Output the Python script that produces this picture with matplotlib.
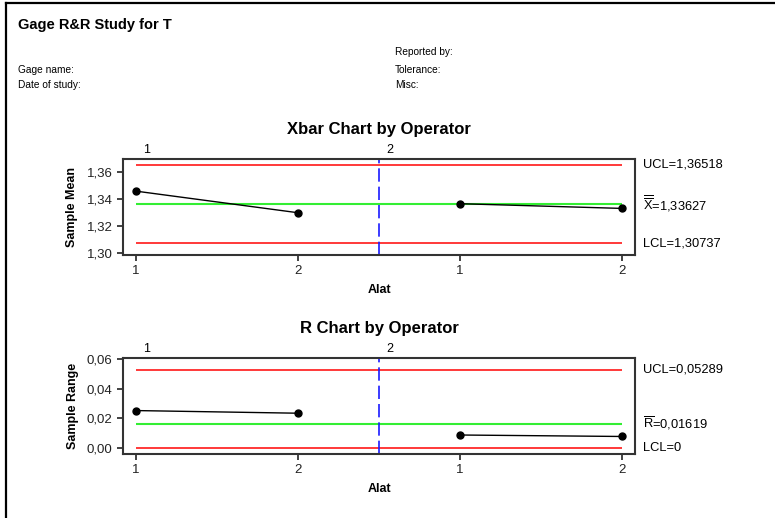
import matplotlib.pyplot as plt
from matplotlib.lines import Line2D
from matplotlib.ticker import FuncFormatter

plt.rcParams['font.family'] = ['Liberation Sans', 'DejaVu Sans']
plt.rcParams['mathtext.fontset'] = 'custom'
plt.rcParams['mathtext.rm'] = 'Liberation Sans'
plt.rcParams['mathtext.it'] = 'Liberation Sans'

# samples: operator 1 parts 1-2, operator 2 parts 1-2
operators = ['1', '2']
parts = ['1', '2', '1', '2']
xbar_vals = [1.3458, 1.3298, 1.3365, 1.3330]
r_vals = [0.0252, 0.0234, 0.0086, 0.0076]

xbar_ucl, xbar_cl, xbar_lcl = 1.36518, 1.33627, 1.30737
r_ucl, r_cl, r_lcl = 0.05289, 0.01619, 0.0

W, H = 775, 518
fig = plt.figure(figsize=(W / 100, H / 100), dpi=100)


def px_axes(l, t, r, b):
    return fig.add_axes([l / W, 1 - b / H, (r - l) / W, (b - t) / H])


# page frame
fig.add_artist(Line2D([6 / W, 6 / W], [0, 1 - 3 / H], color='black', lw=1.6))
fig.add_artist(Line2D([6 / W, 1], [1 - 3 / H, 1 - 3 / H], color='black', lw=1.6))

fig.text(18 / W, 1 - 25 / H, 'Gage R&R Study for T', fontsize=10.5,
         fontweight='bold', va='center')
for txt, y in [('Gage name:', 70), ('Date of study:', 85)]:
    fig.text(18 / W, 1 - y / H, txt, fontsize=7.3, va='center')
for txt, y in [('Reported by:', 52), ('Tolerance:', 70), ('Misc:', 85)]:
    fig.text(395 / W, 1 - y / H, txt, fontsize=7.3, va='center')

comma = FuncFormatter(lambda v, p: f'{v:.2f}'.replace('.', ','))
xs = list(range(1, len(parts) + 1))
n_per_op = len(parts) // len(operators)


def control_chart(ax, vals, ucl, cl, lcl, labels, ylim, yticks, title, ylabel):
    ax.hlines([ucl, lcl], 1, len(vals), colors='#ff2a2a', lw=1.3)
    ax.hlines(cl, 1, len(vals), colors='#33ee33', lw=1.5)
    for k in range(1, len(operators)):
        ax.axvline(k * n_per_op + 0.5, color='#1a1aff', lw=1.2, dashes=(8, 3))
    for k in range(len(operators)):
        seg = slice(k * n_per_op, (k + 1) * n_per_op)
        ax.plot(xs[seg], vals[seg], color='black', lw=1, marker='o', ms=5)
        x0 = 1 if k == 0 else k * n_per_op + 0.5
        ax.annotate(operators[k], (x0, 1), xycoords=('data', 'axes fraction'),
                    xytext=(7.5, 2), textcoords='offset points',
                    ha='center', va='bottom', fontsize=9)
    ax.set_xlim(0.92, len(vals) + 0.08)
    ax.set_ylim(*ylim)
    ax.set_yticks(yticks)
    ax.yaxis.set_major_formatter(comma)
    ax.set_xticks(xs)
    ax.set_xticklabels(parts)
    ax.tick_params(labelsize=9.5, length=4, width=1.2, colors='#222222')
    for s in ax.spines.values():
        s.set_linewidth(1.5)
        s.set_color('#333333')
    ax.set_title(title, fontsize=12, fontweight='bold', pad=18)
    ax.set_xlabel('Alat', fontsize=9, fontweight='bold', labelpad=5)
    ax.set_ylabel(ylabel, fontsize=9, fontweight='bold', labelpad=6)
    tr = ax.get_yaxis_transform()
    for y, txt in zip([ucl, cl, lcl], labels):
        ax.text(1.016, y, txt, transform=tr, fontsize=9.3, va='center', ha='left')


ax1 = px_axes(123, 159, 635, 255)
control_chart(ax1, xbar_vals, xbar_ucl, xbar_cl, xbar_lcl,
              ['UCL=1,36518', r'$\overline{\overline{\mathrm{X}}}$=1,33627', 'LCL=1,30737'],
              (1.2985, 1.3696), [1.30, 1.32, 1.34, 1.36],
              'Xbar Chart by Operator', 'Sample Mean')

ax2 = px_axes(123, 358, 635, 454)
control_chart(ax2, r_vals, r_ucl, r_cl, r_lcl,
              ['UCL=0,05289', r'$\overline{\mathrm{R}}$=0,01619', 'LCL=0'],
              (-0.0043, 0.0609), [0.00, 0.02, 0.04, 0.06],
              'R Chart by Operator', 'Sample Range')

fig.savefig('out.png', dpi=100)
